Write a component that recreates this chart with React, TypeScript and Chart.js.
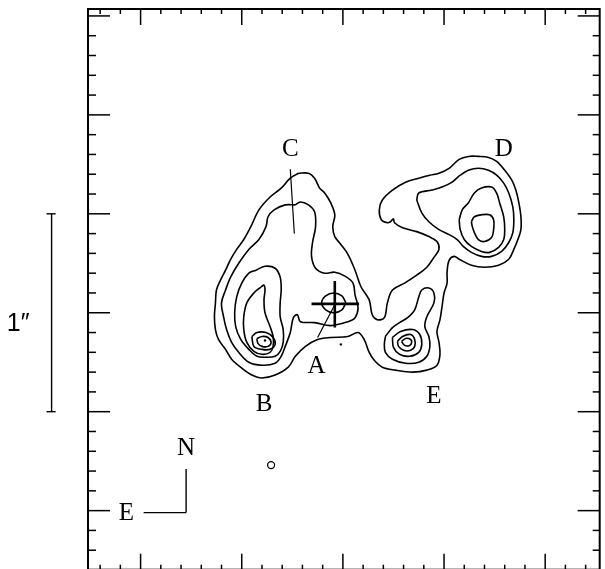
import React, { useEffect, useRef } from 'react';
import { Chart, registerables } from 'chart.js';

Chart.register(...registerables);

// Offsets in units of 0.005 arcsec (100 units = 0.5")
type P = [number, number];

const xMajorTicks = [0, 100, 200, 300, 400];
const xMinorTicks = [-40, -20, 20, 40, 60, 80, 120, 140, 160, 180, 220, 240, 260, 280, 320, 340, 360, 380, 420, 440];
const yMajorTicks = [0, 100, 200, 300, 400, 500];
const yMinorTicks = [-40, -20, 20, 40, 60, 80, 120, 140, 160, 180, 220, 240, 260, 280, 320, 340, 360, 380, 420, 440, 460, 480];

// lowest contour enclosing B, C, A, E and D
const level1All: P[] = [
  [156, 341], [166, 341], [172, 336], [177, 326], [182, 321], [188, 311], [192, 299], [190, 287], [192, 277], [198, 269],
  [205, 259], [212, 243], [218, 226], [226, 213], [229, 198], [234, 193], [241, 195], [244, 210], [249, 223], [261, 230],
  [273, 238], [283, 246], [290, 256], [295, 264], [293, 272], [285, 277], [273, 282], [259, 286], [251, 291], [250, 295],
  [247, 292], [244, 291], [238, 294], [236, 304], [239, 314], [249, 324], [262, 332], [275, 336], [286, 339], [295, 341],
  [305, 346], [315, 355], [324, 358], [334, 358], [344, 357], [352, 353], [360, 344], [367, 334], [371, 324], [374, 311],
  [376, 297], [376, 284], [373, 274], [369, 264], [364, 254], [354, 248], [340, 246], [327, 248], [315, 254], [310, 257],
  [305, 253], [303, 241], [303, 230], [300, 220], [298, 206], [296, 193], [293, 181], [295, 170], [296, 158], [293, 147],
  [283, 142], [269, 140], [252, 142], [239, 145], [231, 152], [226, 160], [221, 173], [215, 180], [205, 176], [188, 175],
  [175, 173], [163, 166], [153, 156], [146, 145], [133, 137], [120, 134], [110, 137], [100, 144], [90, 153], [84, 163],
  [77, 173], [74, 183], [73, 196], [74, 210], [75, 223], [79, 233], [84, 243], [89, 254], [95, 264], [102, 274],
  [109, 287], [117, 304], [128, 317], [139, 326], [148, 336],
];

const level2BCA: P[] = [
  [153, 309], [158, 312], [166, 309], [172, 302], [173, 287], [170, 271], [169, 257], [173, 245], [182, 240], [192, 241],
  [202, 237], [210, 230], [212, 218], [215, 205], [212, 195], [205, 191], [188, 187], [172, 190], [158, 191], [155, 198],
  [151, 195], [148, 180], [143, 166], [139, 156], [133, 149], [120, 147], [107, 150], [97, 160], [90, 170], [85, 183],
  [82, 196], [80, 210], [84, 223], [89, 236], [97, 250], [107, 264], [117, 274], [124, 287], [126, 297], [132, 304],
  [143, 309],
];

const level3B: P[] = [
  [114, 243], [123, 247], [133, 245], [138, 236], [139, 223], [138, 210], [138, 196], [141, 183], [141, 170], [138, 161],
  [133, 156], [124, 155], [115, 156], [107, 163], [99, 173], [94, 186], [93, 200], [95, 216], [100, 230], [107, 240],
];
const level4B: P[] = [
  [119, 226], [122, 228], [123, 223], [122, 213], [123, 200], [128, 186], [131, 176], [131, 166], [128, 160], [120, 158],
  [112, 161], [105, 170], [102, 183], [102, 196], [105, 210], [112, 220],
];
const level5B: P[] = [[110, 176], [115, 180], [124, 180], [131, 175], [133, 168], [128, 163], [120, 163], [112, 166]];
const level6B: P[] = [[115, 174], [120, 176], [126, 175], [129, 170], [126, 166], [120, 166], [116, 169]];

const ringA: P[] = [[203, 210], [199, 217], [191, 220], [183, 217], [179, 210], [183, 203], [191, 200], [199, 203]];

const level2E: P[] = [
  [242, 176], [249, 185], [256, 190], [264, 195], [271, 203], [275, 216], [278, 223], [285, 225], [290, 220], [290, 210],
  [283, 196], [281, 186], [285, 176], [286, 166], [283, 156], [275, 150], [262, 149], [249, 153], [242, 160], [241, 168],
];
const level3E: P[] = [[249, 175], [257, 181], [269, 183], [276, 178], [278, 168], [275, 160], [266, 156], [256, 158], [250, 165]];
const level4E: P[] = [[254, 171], [259, 176], [267, 178], [271, 173], [271, 166], [267, 162], [260, 162], [255, 166]];
const level5E: P[] = [[258, 171], [262, 174], [267, 173], [268, 170], [266, 167], [261, 167]];

const level2D: P[] = [
  [273, 314], [275, 321], [288, 324], [298, 327], [308, 332], [316, 339], [324, 344], [334, 346], [344, 344], [352, 339],
  [359, 331], [364, 321], [368, 307], [369, 294], [368, 281], [364, 271], [357, 262], [347, 257], [337, 257], [327, 261],
  [319, 267], [313, 274], [305, 279], [295, 284], [285, 292], [278, 301],
];
const level3D: P[] = [
  [315, 294], [318, 304], [324, 311], [330, 321], [337, 326], [347, 327], [352, 321], [355, 311], [359, 297], [360, 284],
  [359, 274], [354, 266], [345, 261], [337, 262], [327, 267], [320, 274], [316, 284],
];
const level4D: P[] = [
  [327, 292], [330, 297], [337, 299], [345, 299], [349, 294], [349, 284], [347, 276], [340, 272], [334, 274], [330, 281],
  [328, 287],
];

// marker A cross, pointer lines
const crossH: P[] = [[169, 209], [216, 209]];
const crossV: P[] = [[192, 232], [192, 185]];
const pointerA: P[] = [[192, 208], [175, 175]];
const pointerC: P[] = [[148, 345], [152, 280]];
const peakDots: P[] = [[123, 172], [198, 168]];
const smallCircle: P[] = [[129, 46]];

// compass and scale bar (1" = 200 units)
const compassN: P[] = [[45, 42], [45, -2]];
const compassE: P[] = [[3, -2], [45, -2]];
const scaleBar: P[] = [[-88, 100], [-88, 300]];
const scaleCapTop: P[] = [[-93, 300], [-84, 300]];
const scaleCapBottom: P[] = [[-93, 100], [-84, 100]];

const labelTexts = ['A', 'B', 'C', 'D', 'E', 'N', 'E'];
const labelX = [174, 122, 148, 359, 290, 45, -14];
const labelY = [146, 107, 365, 365, 115, 63, -3];
const scaleLabel = '1\u2033';
const scaleLabelX = -121;
const scaleLabelY = 189;

const toPts = (a: P[], close: boolean) => {
  const pts = a.map(([x, y]) => ({ x, y }));
  if (close) pts.push({ ...pts[0] });
  return pts;
};

const line = (a: P[], close: boolean, width = 1.6, extra: any = {}) => ({
  data: toPts(a, close),
  showLine: true,
  borderColor: '#000',
  borderWidth: width,
  pointRadius: 0,
  tension: close ? 0.35 : 0,
  fill: false,
  ...extra,
});

const framePlugin = {
  id: 'frameTicks',
  afterDatasetsDraw(chart: any) {
    const { ctx, chartArea: a, scales } = chart;
    const xs = scales.x;
    const ys = scales.y;
    ctx.save();
    ctx.strokeStyle = '#000';
    ctx.lineWidth = 2;
    ctx.strokeRect(a.left, a.top, a.right - a.left, a.bottom - a.top);
    ctx.lineWidth = 1.5;
    const seg = (x1: number, y1: number, x2: number, y2: number) => {
      ctx.beginPath();
      ctx.moveTo(x1, y1);
      ctx.lineTo(x2, y2);
      ctx.stroke();
    };
    xMajorTicks.forEach((v) => {
      const p = xs.getPixelForValue(v);
      seg(p, a.top, p, a.top + 16);
      seg(p, a.bottom, p, a.bottom - 16);
    });
    xMinorTicks.forEach((v) => {
      const p = xs.getPixelForValue(v);
      seg(p, a.top, p, a.top + 5);
      seg(p, a.bottom, p, a.bottom - 5);
    });
    yMajorTicks.forEach((v) => {
      const p = ys.getPixelForValue(v);
      seg(a.left, p, a.left + 22, p);
      seg(a.right, p, a.right - 22, p);
    });
    yMinorTicks.forEach((v) => {
      const p = ys.getPixelForValue(v);
      seg(a.left, p, a.left + 8, p);
      seg(a.right, p, a.right - 7, p);
    });
    ctx.fillStyle = '#000';
    ctx.textAlign = 'center';
    ctx.textBaseline = 'middle';
    ctx.font = '25px "Liberation Serif", "DejaVu Serif", serif';
    labelTexts.forEach((t, i) => {
      ctx.fillText(t, xs.getPixelForValue(labelX[i]), ys.getPixelForValue(labelY[i]));
    });
    ctx.font = '25px "Liberation Sans", "DejaVu Sans", sans-serif';
    ctx.fillText(scaleLabel, xs.getPixelForValue(scaleLabelX), ys.getPixelForValue(scaleLabelY));
    ctx.restore();
  },
};

export default function App() {
  const ref = useRef<HTMLCanvasElement | null>(null);
  useEffect(() => {
    if (!ref.current) return;
    const datasets: any[] = [
      line(level1All, true),
      line(level2BCA, true),
      line(level3B, true),
      line(level4B, true),
      line(level5B, true),
      line(level6B, true),
      line(ringA, true),
      line(level2E, true),
      line(level3E, true),
      line(level4E, true),
      line(level5E, true),
      line(level2D, true),
      line(level3D, true),
      line(level4D, true),
      line(crossH, false, 2.6),
      line(crossV, false, 2.6),
      line(pointerA, false, 1.2),
      line(pointerC, false, 1.2),
      line(compassN, false, 1.4),
      line(compassE, false, 1.4),
      line(scaleBar, false, 1.4, { clip: false }),
      line(scaleCapTop, false, 1.4, { clip: false }),
      line(scaleCapBottom, false, 1.4, { clip: false }),
      {
        data: toPts(peakDots, false),
        showLine: false,
        pointRadius: 1.2,
        pointBackgroundColor: '#000',
        pointBorderColor: '#000',
        pointBorderWidth: 0,
      },
      {
        data: toPts(smallCircle, false),
        showLine: false,
        pointRadius: 3.5,
        pointBackgroundColor: '#fff',
        pointBorderColor: '#000',
        pointBorderWidth: 1.3,
      },
    ];
    const chart = new Chart(ref.current, {
      type: 'scatter',
      data: { datasets },
      options: {
        animation: false,
        responsive: false,
        devicePixelRatio: 1,
        layout: { padding: { left: 88, right: 1, top: 9, bottom: 5 } },
        plugins: { legend: { display: false }, tooltip: { enabled: false } },
        scales: {
          x: { type: 'linear', min: -52, max: 453.9, display: false },
          y: { type: 'linear', min: -59.7, max: 507, display: false },
        },
      },
      plugins: [framePlugin],
    } as any);
    return () => chart.destroy();
  }, []);
  return (
    <canvas
      ref={ref}
      width={605}
      height={575}
      style={{ position: 'fixed', left: 0, top: 0, background: '#fff' }}
    />
  );
}
